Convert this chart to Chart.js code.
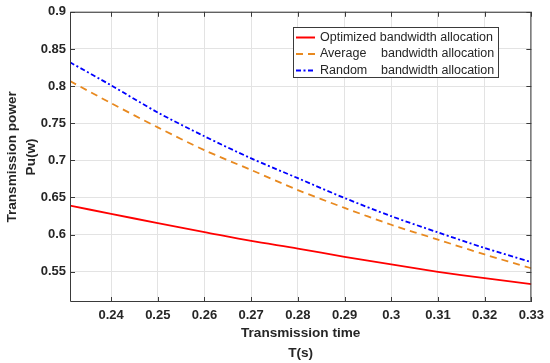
<!DOCTYPE html>
<html>
<head>
<meta charset="utf-8">
<script src="https://cdn.jsdelivr.net/npm/chart.js@4/dist/chart.umd.min.js"></script>
<style>
html,body{margin:0;padding:0;background:#fff;}
#wrap{width:550px;height:363px;position:relative;}
</style>
</head>
<body>
<div id="wrap"><canvas id="c" width="550" height="363"></canvas></div>
<script>
const tValues = [0.2312, 0.24, 0.25, 0.26, 0.27, 0.28, 0.29, 0.30, 0.31, 0.32, 0.33];
const optimized = [0.639, 0.628, 0.6155, 0.6035, 0.5915, 0.5813, 0.570, 0.560, 0.550, 0.5413, 0.5333];
const average   = [0.8067, 0.777, 0.7444, 0.7137, 0.687, 0.660, 0.636, 0.6133, 0.5933, 0.5733, 0.5547];
const random    = [0.832, 0.801, 0.7644, 0.7324, 0.7027, 0.676, 0.6493, 0.6248, 0.603, 0.582, 0.563];
const seriesNames = ['Optimized bandwidth allocation', 'Average    bandwidth allocation', 'Random    bandwidth allocation'];
const xTicks = [0.24, 0.25, 0.26, 0.27, 0.28, 0.29, 0.30, 0.31, 0.32, 0.33];
const yTicks = [0.55, 0.6, 0.65, 0.7, 0.75, 0.8, 0.85, 0.9];

const toPts = arr => arr.map((v, i) => ({x: tValues[i], y: v}));
const TXT = '#262626';

const boxPlugin = {
  id: 'matlabBox',
  afterDraw(chart) {
    const {ctx, chartArea: a, scales: {x, y}} = chart;
    ctx.save();
    ctx.strokeStyle = '#3a3a3a';
    ctx.lineWidth = 1;
    ctx.beginPath();
    ctx.rect(a.left + 0.5, a.top + 0.5, a.right - a.left - 1, a.bottom - a.top - 1);
    ctx.stroke();
    const tl = 5;
    ctx.beginPath();
    xTicks.forEach(t => {
      const px = Math.round(x.getPixelForValue(t)) + 0.5;
      ctx.moveTo(px, a.bottom); ctx.lineTo(px, a.bottom - tl);
      ctx.moveTo(px, a.top); ctx.lineTo(px, a.top + tl);
    });
    yTicks.forEach(t => {
      const py = Math.round(y.getPixelForValue(t)) + 0.5;
      ctx.moveTo(a.left, py); ctx.lineTo(a.left + tl, py);
      ctx.moveTo(a.right, py); ctx.lineTo(a.right - tl, py);
    });
    ctx.stroke();

    // legend
    const lx = 293, ly = 27, lw = 205, lh = 50;
    ctx.fillStyle = '#fff';
    ctx.fillRect(lx, ly, lw, lh);
    ctx.strokeStyle = '#3a3a3a';
    ctx.lineWidth = 1;
    ctx.strokeRect(lx + 0.5, ly + 0.5, lw, lh);
    ctx.font = '12.5px "Liberation Sans", Arial, sans-serif';
    ctx.textBaseline = 'middle';
    ctx.fillStyle = TXT;
    chart.data.datasets.forEach((ds, i) => {
      const cy = 37.5 + i * 16.5;
      ctx.save();
      ctx.strokeStyle = ds.borderColor;
      ctx.lineWidth = 2;
      ctx.setLineDash(ds.borderDash || []);
      ctx.beginPath();
      ctx.moveTo(296, cy); ctx.lineTo(315, cy);
      ctx.stroke();
      ctx.restore();
      const parts = ds.label.split(/\s{2,}/);
      if (parts.length > 1) {
        ctx.fillText(parts[0], 320, cy);
        ctx.fillText(parts[1], 381, cy);
      } else {
        ctx.fillText(ds.label, 320, cy);
      }
    });
    ctx.restore();
  }
};

new Chart(document.getElementById('c'), {
  type: 'line',
  data: {
    datasets: [
      {label: seriesNames[0], data: toPts(optimized), borderColor: '#ff0000', borderWidth: 1.8, pointRadius: 0, tension: 0.3, fill: false},
      {label: seriesNames[1], data: toPts(average), borderColor: '#e8891f', borderWidth: 1.8, borderDash: [7, 5], pointRadius: 0, tension: 0.3, fill: false},
      {label: seriesNames[2], data: toPts(random), borderColor: '#0000ff', borderWidth: 1.8, borderDash: [5, 2.5, 2, 2.5], pointRadius: 0, tension: 0.3, fill: false}
    ]
  },
  options: {
    responsive: false,
    animation: false,
    devicePixelRatio: 1,
    layout: {padding: {top: 9, right: 11, left: 0, bottom: 0}},
    plugins: {legend: {display: false}, tooltip: {enabled: false}},
    scales: {
      x: {
        type: 'linear',
        min: 0.2312, max: 0.33,
        afterBuildTicks: s => { s.ticks = xTicks.map(v => ({value: v})); },
        afterFit: s => { s.height = 61; },
        border: {display: false},
        grid: {color: '#e3e3e3', drawTicks: false, lineWidth: 1},
        ticks: {
          color: TXT, padding: 6, maxRotation: 0, autoSkip: false,
          font: {family: '"Liberation Sans", Arial, sans-serif', size: 13, weight: 'bold'},
          callback: v => String(parseFloat(v.toFixed(2)))
        },
        title: {
          display: true, text: ['Transmission time', 'T(s)'], color: TXT,
          font: {family: '"Liberation Sans", Arial, sans-serif', size: 13.6, weight: 'bold', lineHeight: 1.45},
          padding: {top: 0, bottom: 0}
        }
      },
      y: {
        type: 'linear',
        min: 0.5093, max: 0.9,
        afterBuildTicks: s => { s.ticks = yTicks.map(v => ({value: v})); },
        afterFit: s => { s.width = 70; },
        border: {display: false},
        grid: {color: '#e3e3e3', drawTicks: false, lineWidth: 1},
        ticks: {
          color: TXT, padding: 4, autoSkip: false,
          font: {family: '"Liberation Sans", Arial, sans-serif', size: 13, weight: 'bold'},
          callback: v => String(parseFloat(v.toFixed(2)))
        },
        title: {
          display: true, text: ['Transmission power', 'Pu(w)'], color: TXT,
          font: {family: '"Liberation Sans", Arial, sans-serif', size: 13.6, weight: 'bold', lineHeight: 1.45},
          padding: {top: 2, bottom: 0}
        }
      }
    }
  },
  plugins: [boxPlugin]
});
</script>
</body>
</html>
